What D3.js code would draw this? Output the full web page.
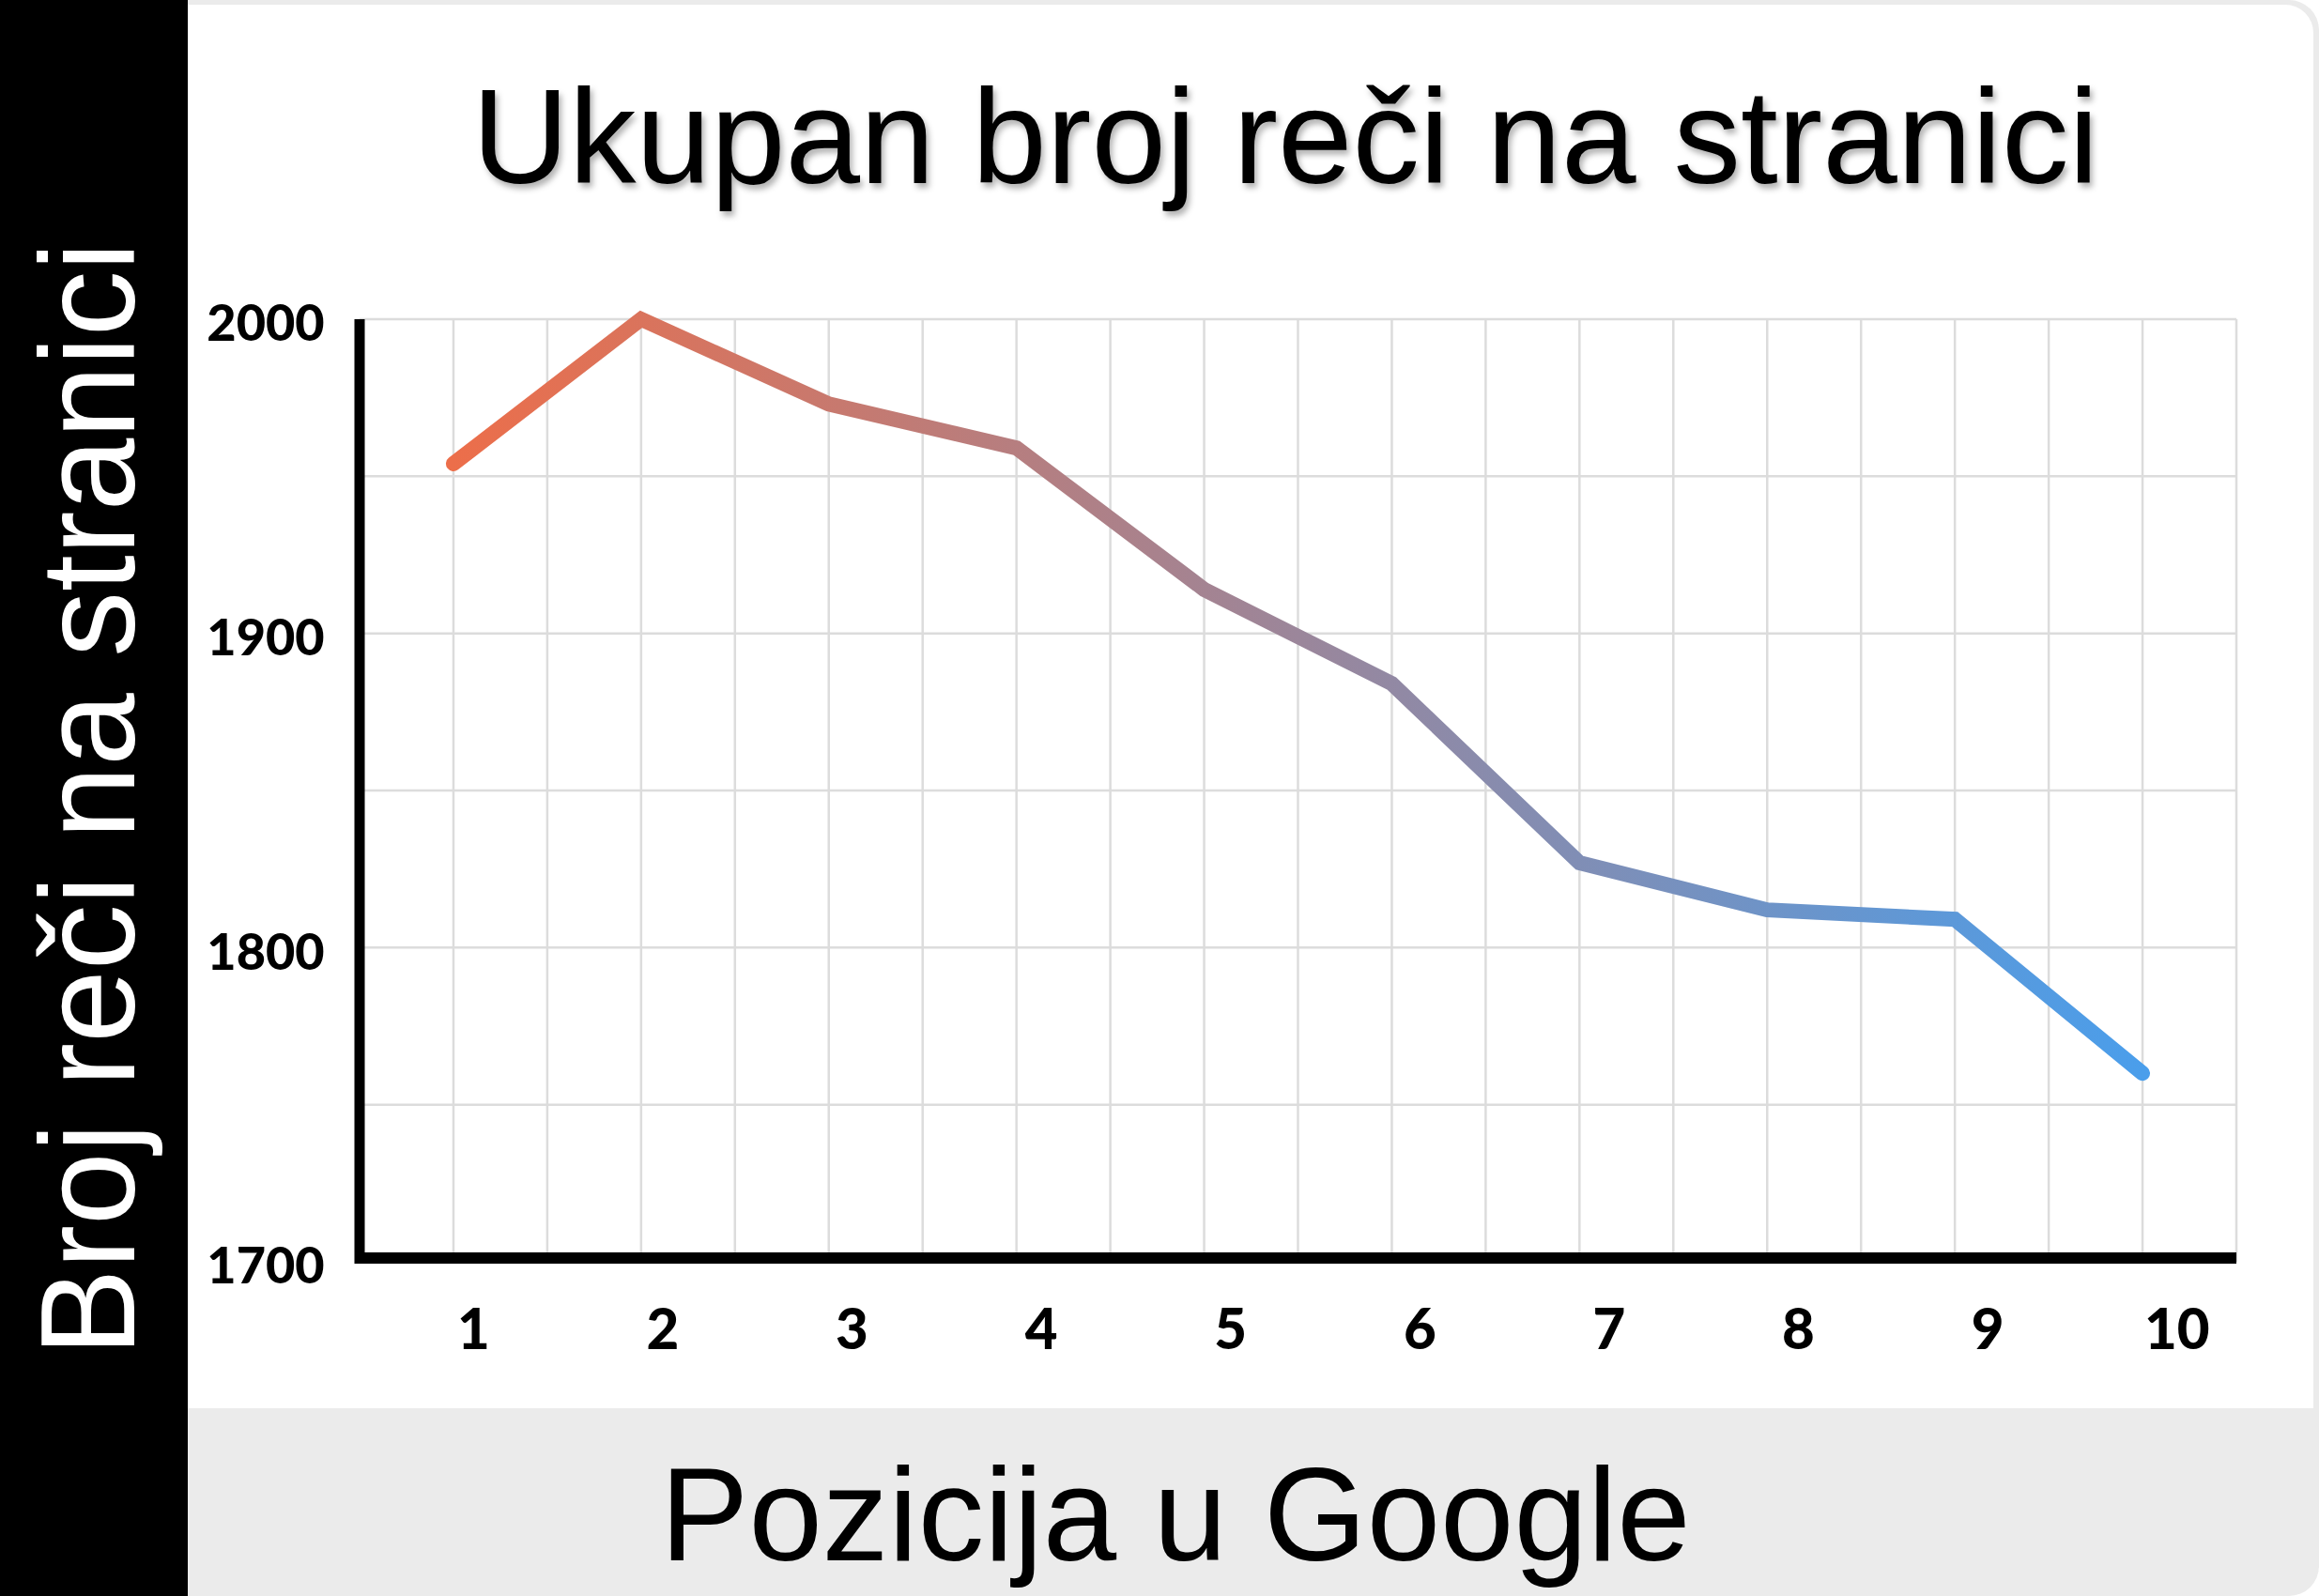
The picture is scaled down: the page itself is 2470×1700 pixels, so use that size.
<!DOCTYPE html>
<html>
<head>
<meta charset="utf-8">
<script src="https://cdn.jsdelivr.net/npm/d3@7"></script>
<style>
	html, body { margin: 0; padding: 0; background: #fff; }
	svg { display: block; }
</style>
</head>
<body>
<svg id="chart" width="2470" height="1700"></svg>
<script>
// data
const positions = [1, 2, 3, 4, 5, 6, 7, 8, 9, 10];
const wordCounts = [1954, 2000, 1973, 1959, 1914, 1884, 1827, 1812, 1809, 1760];
const yTickValues = [1700, 1800, 1900, 2000];
const yGridValues = [1750, 1800, 1850, 1900, 1950, 2000];
const xGridValues = d3.range(1, 10.51, 0.5);

const titleText = "Ukupan broj reči na stranici";
const yLabelText = "Broj reči na stranici";
const xLabelText = "Pozicija u Google";

const W = 2470, H = 1700;
const plot = { left: 383, right: 2382, top: 340, bottom: 1344 };

const svg = d3.select("#chart");

const x = d3.scaleLinear().domain([0.5, 10.5]).range([plot.left, plot.right]);
// the tick labels sit a bit right of the points in the original
const xLabel = d3.scaleLinear().domain([0.5, 10.5]).range([403, 2419]);
const y = d3.scaleLinear().domain([1700, 2000]).range([plot.bottom, plot.top]);

const defs = svg.append("defs");
const grad = defs.append("linearGradient")
	.attr("id", "lineGrad")
	.attr("gradientUnits", "userSpaceOnUse")
	.attr("x1", x(1)).attr("x2", x(10))
	.attr("y1", 0).attr("y2", 0);
grad.append("stop").attr("offset", "0%").attr("stop-color", "#ec6e4a");
grad.append("stop").attr("offset", "100%").attr("stop-color", "#4a9eeb");

const shadow = defs.append("filter").attr("id", "shadow")
	.attr("x", "-5%").attr("y", "-20%").attr("width", "110%").attr("height", "140%");
shadow.append("feDropShadow")
	.attr("dx", 3).attr("dy", 5).attr("stdDeviation", 3)
	.attr("flood-color", "#000").attr("flood-opacity", 0.3);

// background panels
svg.append("rect")
	.attr("x", 100).attr("y", 0).attr("width", W - 100).attr("height", H)
	.attr("rx", 32).attr("fill", "#ebebeb");
svg.append("rect")
	.attr("x", 100).attr("y", 5).attr("width", W - 106).attr("height", 1495 + 30)
	.attr("rx", 30).attr("fill", "#fff");
svg.append("rect")
	.attr("x", 100).attr("y", 1500).attr("width", W - 100).attr("height", 170)
	.attr("fill", "#ebebeb");
svg.append("rect")
	.attr("x", 0).attr("y", 0).attr("width", 200).attr("height", H)
	.attr("fill", "#000");

// grid
const grid = svg.append("g").attr("class", "grid")
	.attr("stroke", "#dcdcdc").attr("stroke-width", 2.5);
grid.selectAll(".vgrid").data(xGridValues).enter().append("line")
	.attr("class", "vgrid")
	.attr("x1", d => x(d)).attr("x2", d => x(d))
	.attr("y1", y(2000)).attr("y2", y(1700));
grid.selectAll(".hgrid").data(yGridValues).enter().append("line")
	.attr("class", "hgrid")
	.attr("x1", x(0.5)).attr("x2", x(10.5))
	.attr("y1", d => y(d)).attr("y2", d => y(d));

// axes (labels only, the lines are drawn thick below)
const yAxis = d3.axisLeft(y).tickValues(yTickValues).tickSize(0).tickPadding(100)
	.tickFormat(d3.format("d"));
const gy = svg.append("g")
	.attr("transform", `translate(${ plot.left }, 0)`)
	.call(yAxis);
gy.select(".domain").remove();
gy.selectAll("text")
	.attr("text-anchor", "middle")
	.attr("dy", "0.42em")
	.style("font-family", "Lato, 'DejaVu Sans', sans-serif")
	.style("font-weight", 900)
	.style("font-size", "54px")
	.attr("fill", "#000");

const xAxis = d3.axisBottom(xLabel).tickValues(positions).tickSize(0).tickPadding(50)
	.tickFormat(d3.format("d"));
const gx = svg.append("g")
	.attr("transform", `translate(0, ${ plot.bottom })`)
	.call(xAxis);
gx.select(".domain").remove();
gx.selectAll("text")
	.style("font-family", "Lato, 'DejaVu Sans', sans-serif")
	.style("font-weight", 900)
	.style("font-size", "60px")
	.attr("fill", "#000");

svg.append("line")
	.attr("x1", plot.left).attr("x2", plot.left)
	.attr("y1", y(2000)).attr("y2", y(1700) + 2)
	.attr("stroke", "#000").attr("stroke-width", 11);
svg.append("line")
	.attr("x1", plot.left - 5).attr("x2", x(10.5))
	.attr("y1", y(1700) - 4).attr("y2", y(1700) - 4)
	.attr("stroke", "#000").attr("stroke-width", 12);

// the line
const line = d3.line()
	.x((d, i) => x(positions[i]))
	.y(d => y(d));
svg.append("path")
	.datum(wordCounts)
	.attr("d", line)
	.attr("fill", "none")
	.attr("stroke", "url(#lineGrad)")
	.attr("stroke-width", 16)
	.attr("stroke-linejoin", "miter")
	.attr("stroke-linecap", "round");

// texts
svg.append("text")
	.attr("x", 1369).attr("y", 195)
	.attr("text-anchor", "middle")
	.attr("filter", "url(#shadow)")
	.style("font-family", "'Liberation Sans', Arial, sans-serif")
	.style("font-size", "143px")
	.attr("fill", "#000")
	.text(titleText);

svg.append("text")
	.attr("transform", "translate(143, 851) rotate(-90)")
	.attr("text-anchor", "middle")
	.attr("textLength", 1187)
	.attr("lengthAdjust", "spacingAndGlyphs")
	.style("font-family", "'Liberation Sans', Arial, sans-serif")
	.style("font-size", "143px")
	.attr("fill", "#fff")
	.text(yLabelText);

svg.append("text")
	.attr("x", 1252).attr("y", 1662)
	.attr("text-anchor", "middle")
	.style("font-family", "'Liberation Sans', Arial, sans-serif")
	.style("font-size", "141px")
	.attr("fill", "#000")
	.text(xLabelText);
</script>
</body>
</html>
